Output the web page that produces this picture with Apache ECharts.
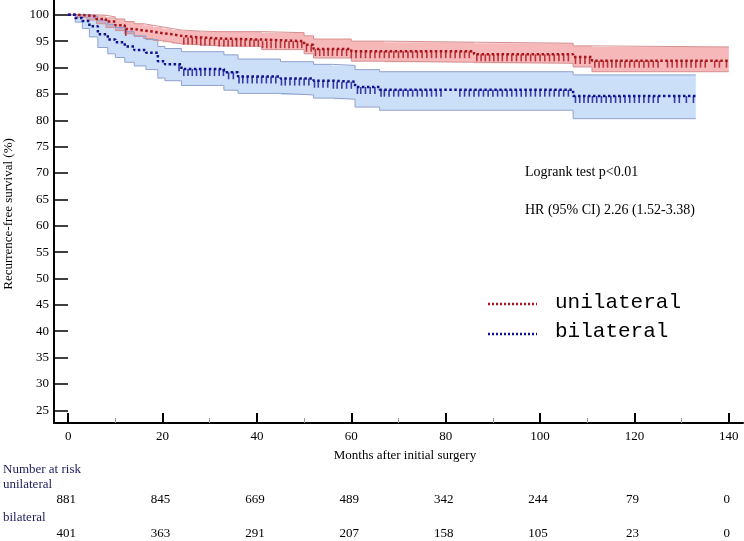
<!DOCTYPE html>
<html><head><meta charset="utf-8">
<script src="https://cdn.jsdelivr.net/npm/echarts@6/dist/echarts.min.js"></script>
<style>html,body{margin:0;padding:0;background:#fff}#c{width:744px;height:541px}</style>
</head><body><div id="c"></div>
<script>
// ---- data ----
const uniTime  = [0,2,4,6,8,10,12,14,16,18,20,22,24,28,32,41,50,52,60,67,86,107,111,140];
const uniSurv  = [100,99.9,99.7,99.2,98.7,98.0,97.3,97.0,96.8,96.5,96.3,96.0,95.7,95.5,95.3,95.0,94.3,93.5,93.1,93.1,92.5,92.0,91.3,91.3];
const uniUpper = [100,100,100,99.9,99.6,99.2,98.7,98.3,98.0,97.7,97.4,97.1,96.9,96.8,96.8,96.6,96.0,95.4,95.0,94.8,94.6,94.1,93.9,93.9];
const uniLower = [100,99.5,99.0,98.3,97.6,97.0,96.4,95.9,95.5,95.1,94.8,94.5,94.3,94.1,94.0,93.4,92.6,91.8,91.2,91.0,90.8,90.1,89.2,89.2];

const bilTime  = [0,1.5,3,4.5,6.3,8.4,10,12,14,16.5,19,20.5,24,33,36,45,52,56,60.8,66,107,133];
const bilSurv  = [100,99.4,98.8,97.8,96.3,95.3,94.8,94.0,93.3,92.8,91.2,90.6,89.7,89.1,88.3,87.9,87.5,87.3,86.3,85.8,84.6,84.6];
const bilUpper = [100,100,100,99.7,99.0,98.2,97.6,96.8,96.0,95.3,94.0,93.6,93.0,92.4,91.6,91.1,90.6,90.4,89.6,89.2,88.6,88.6];
const bilLower = [100,98.6,97.4,95.8,93.8,92.6,91.9,91.0,90.3,89.6,88.0,87.5,86.6,85.7,85.1,84.8,84.2,84.0,82.5,81.9,80.3,80.3];

const uniCensor = [12.2,24.5,25.4,26.3,27.2,28.1,29,30,31,32,33,33.9,34.8,35.7,36.6,37.5,38.5,39.4,40.3,41.2,42.1,43,44,45,45.9,46.8,47.7,48.6,49.5,50.5,51.5,52.4,53.3,54.2,55.1,56,57,58,59,60,61,62,63,64,65,66,67,68,69,70,71,72,73,74,75,76,77,78,79,80,81,82,83,84,85,86.6,87.5,88.4,89.3,90.2,91.1,92,93,94,95,96,97,98,99,100,101,102,103,104,105,106,107.5,108.5,109.5,110.5,111.6,112.5,113.4,114.3,115.2,116.1,117,118,119,120,121,122,123,124,125,127,128,129,130,131,132,133,134,135,137,138,139.5];
const bilCensor = [23.5,24.5,25.4,26.3,27.2,28.1,29,30,31,32,32.9,34,35,36.2,37,38,39,40,41,42,43,44,45.2,46,47,48,49,50,51,52.2,53,54,55,56.2,57,58,59,60,61.3,62,63,64,65,66.3,67,68,69,70,71,72,73,74,75,76,77,78,79,83,84,85,86,87,88,89,90,91,92,93,94,95,96,97,98,99,100,101,102,103,104,105,106,107.5,108.4,109.3,110.2,111.1,112,113,114,115,116,117,118,119,120,121,122,123,124,125,128.5,129.5,131,132.5];

const xMajor = [0,20,40,60,80,100,120,140];
const xMinor = [10,30,50,70,90,110,130];
const yTicks = [25,30,35,40,45,50,55,60,65,70,75,80,85,90,95,100];

const riskTimes = [0,20,40,60,80,100,120,140];
const riskUni   = [881,845,669,489,342,244,79,0];
const riskBil   = [401,363,291,207,158,105,23,0];

// ---- helpers ----
const SERIF = '"Liberation Serif","Times New Roman",serif';
const pairs = (t, v) => t.map((x, i) => [x, v[i]]);
function survAt(times, surv, t) {
  let v = surv[0];
  for (let i = 0; i < times.length; i++) { if (times[i] <= t) v = surv[i]; }
  return v;
}
// step polygon for a confidence band, drawn through the axis scales
function bandSeries(times, upper, lower, fill) {
  return {
    type: 'custom', data: [[0]], z: 1, silent: true,
    renderItem: function (params, api) {
      const top = [], bot = [];
      for (let i = 0; i < times.length; i++) {
        const t0 = times[i], t1 = i + 1 < times.length ? times[i + 1] : times[i];
        top.push(api.coord([t0, upper[i]]), api.coord([t1, upper[i]]));
        bot.push(api.coord([t0, lower[i]]), api.coord([t1, lower[i]]));
      }
      return {type: 'polygon', shape: {points: top.concat(bot.reverse())}, style: {fill: fill, stroke: null}};
    }
  };
}
const RED = '#a8141c', BLUE = '#10108e';

const chart = echarts.init(document.getElementById('c'), null, {renderer: 'canvas'});
const tickSym = {symbol: 'rect', symbolSize: [1.6, 7], symbolOffset: [0, 3.5]};

chart.setOption({
  animation: false,
  backgroundColor: '#fff',
  grid: {left: 54, top: 0, width: 689, height: 423},
  xAxis: [{
    type: 'value', min: -3, max: 143,
    axisLine: {onZero: false, lineStyle: {color: '#000', width: 2}},
    axisTick: {inside: true, length: 10, customValues: xMajor, lineStyle: {color: '#000', width: 2}},
    axisLabel: {customValues: xMajor, color: '#000', fontFamily: SERIF, fontSize: 13, margin: 7},
    splitLine: {show: false}
  }, {
    type: 'value', min: -3, max: 143, gridIndex: 0, position: 'bottom',
    axisLine: {show: false, onZero: false},
    axisTick: {inside: true, length: 5, customValues: xMinor, lineStyle: {color: '#999', width: 1}},
    axisLabel: {show: false},
    splitLine: {show: false}
  }],
  yAxis: {
    type: 'value', min: 22.6, max: 102.8,
    axisLine: {onZero: false, lineStyle: {color: '#000', width: 2}},
    axisTick: {inside: true, length: 14, customValues: yTicks, lineStyle: {color: '#000', width: 1.5}},
    axisLabel: {customValues: yTicks, color: '#000', fontFamily: SERIF, fontSize: 13, margin: 5},
    splitLine: {show: false}
  },
  series: [
    bandSeries(uniTime, uniUpper, uniLower, 'rgba(232,40,45,0.33)'),
    bandSeries(bilTime, bilUpper, bilLower, 'rgba(85,150,235,0.3)'),
    {type: 'line', step: 'end', data: pairs(uniTime, uniUpper), showSymbol: false, lineStyle: {color: '#d49090', width: 1}, z: 2},
    {type: 'line', step: 'end', data: pairs(uniTime, uniLower), showSymbol: false, lineStyle: {color: '#d49090', width: 1}, z: 2},
    {type: 'line', step: 'end', data: pairs(bilTime, bilUpper), showSymbol: false, lineStyle: {color: '#8fa0cc', width: 1}, z: 2},
    {type: 'line', step: 'end', data: pairs(bilTime, bilLower), showSymbol: false, lineStyle: {color: '#8fa0cc', width: 1}, z: 2},
    {type: 'line', step: 'end', data: pairs(uniTime, uniSurv), showSymbol: false,
     lineStyle: {color: RED, width: 2.5, type: [2.5, 2.5]}, z: 3},
    {type: 'line', step: 'end', data: pairs(bilTime, bilSurv), showSymbol: false,
     lineStyle: {color: BLUE, width: 2.5, type: [2.5, 2.5]}, z: 3},
    Object.assign({type: 'scatter', data: uniCensor.map(t => [t, survAt(uniTime, uniSurv, t)]),
     itemStyle: {color: RED}, z: 4, silent: true}, tickSym),
    Object.assign({type: 'scatter', data: bilCensor.map(t => [t, survAt(bilTime, bilSurv, t)]),
     itemStyle: {color: BLUE}, z: 4, silent: true}, tickSym)
  ]
});

// ---- texts, legend, risk table ----
const NAVY = '#1c1c5e';
const g = [
  {type: 'text', x: 9, y: 214, rotation: Math.PI / 2,
   style: {text: 'Recurrence-free survival (%)', font: '13px ' + SERIF, fill: '#000', align: 'center', verticalAlign: 'middle'}},
  {type: 'text', x: 405, y: 456,
   style: {text: 'Months after initial surgery', font: '13px ' + SERIF, fill: '#000', align: 'center', verticalAlign: 'middle'}},
  {type: 'text', x: 525, y: 172,
   style: {text: 'Logrank test p<0.01', font: '14px ' + SERIF, fill: '#000', align: 'left', verticalAlign: 'middle'}},
  {type: 'text', x: 525, y: 210,
   style: {text: 'HR (95% CI) 2.26 (1.52-3.38)', font: '14px ' + SERIF, fill: '#000', align: 'left', verticalAlign: 'middle'}},
  {type: 'line', shape: {x1: 488, y1: 304, x2: 537, y2: 304}, style: {stroke: RED, lineWidth: 2.5, lineDash: [2, 2]}},
  {type: 'text', x: 555, y: 302,
   style: {text: 'unilateral', font: '21px "Liberation Mono",monospace', fill: '#000', align: 'left', verticalAlign: 'middle'}},
  {type: 'line', shape: {x1: 488, y1: 334, x2: 537, y2: 334}, style: {stroke: BLUE, lineWidth: 2.5, lineDash: [2, 2]}},
  {type: 'text', x: 555, y: 331,
   style: {text: 'bilateral', font: '21px "Liberation Mono",monospace', fill: '#000', align: 'left', verticalAlign: 'middle'}},
  {type: 'text', x: 3, y: 470, style: {text: 'Number at risk', font: '13px ' + SERIF, fill: NAVY, align: 'left', verticalAlign: 'middle'}},
  {type: 'text', x: 3, y: 485, style: {text: 'unilateral', font: '13px ' + SERIF, fill: NAVY, align: 'left', verticalAlign: 'middle'}},
  {type: 'text', x: 3, y: 518, style: {text: 'bilateral', font: '13px ' + SERIF, fill: NAVY, align: 'left', verticalAlign: 'middle'}}
];
riskTimes.forEach((t, i) => {
  const px = chart.convertToPixel({xAxisIndex: 0}, t);
  g.push({type: 'text', x: px - 2, y: 500, style: {text: String(riskUni[i]), font: '13px ' + SERIF, fill: '#000', align: 'center', verticalAlign: 'middle'}});
  g.push({type: 'text', x: px - 2, y: 534, style: {text: String(riskBil[i]), font: '13px ' + SERIF, fill: '#000', align: 'center', verticalAlign: 'middle'}});
});
chart.setOption({graphic: g});
</script>
</body></html>
